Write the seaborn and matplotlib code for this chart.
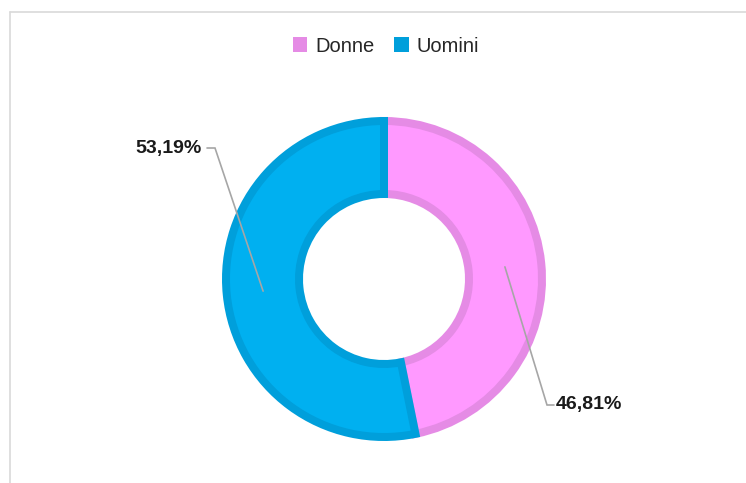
import numpy as np
import matplotlib
matplotlib.use("Agg")
import matplotlib.pyplot as plt
from matplotlib.patches import Patch
from matplotlib.lines import Line2D
import seaborn as sns

# ---- data ----
categories = ["Donne", "Uomini"]
values = [46.81, 53.19]
labels = ["46,81%", "53,19%"]
fill_colors = ["#FF99FF", "#00B0F0"]
edge_colors = ["#E58BE5", "#009FDB"]

sns.set_theme(style="white")
plt.rcParams["font.family"] = ["Liberation Sans", "DejaVu Sans"]

W, H = 746, 483
fig = plt.figure(figsize=(W / 100, H / 100), dpi=100)
ax = fig.add_axes([0, 0, 1, 1])
ax.set_xlim(0, W)
ax.set_ylim(0, H)
ax.axis("off")

cx, cy = 384, H - 279
R_out, R_in = 162, 81
lw_px = 8
lw_pt = lw_px * 72 / 100

wedges, _ = ax.pie(
    values,
    colors=fill_colors,
    startangle=90,
    counterclock=False,
    center=(cx, cy),
    radius=R_out - lw_px / 2,
    wedgeprops=dict(width=(R_out - R_in) - lw_px, linewidth=lw_pt, joinstyle="miter"),
    frame=True,
)
for w, ec in zip(wedges, edge_colors):
    w.set_edgecolor(ec)
ax.set_xlim(0, W)
ax.set_ylim(0, H)
ax.set_aspect("equal")
ax.axis("off")

# leader lines + labels
r_mid = (R_out + R_in) / 2
for w, lab in zip(wedges, labels):
    ang = np.deg2rad((w.theta1 + w.theta2) / 2)
    ax0, ay0 = cx + r_mid * np.cos(ang), cy + r_mid * np.sin(ang)
    if np.cos(ang) > 0:
        kx, ky = 547, H - 405
        ex = 554
        ax.plot([ax0, kx, ex], [ay0, ky, ky], color="#A6A6A6", lw=1.2, solid_joinstyle="miter")
        ax.text(ex + 2, ky, lab, ha="left", va="center", fontsize=14, fontweight="bold", color="#1A1A1A")
    else:
        kx, ky = 215, H - 148
        ex = 207
        ax.plot([ax0, kx, ex], [ay0, ky, ky], color="#A6A6A6", lw=1.2, solid_joinstyle="miter")
        ax.text(ex - 5, ky, lab, ha="right", va="center", fontsize=14, fontweight="bold", color="#1A1A1A")

# legend
handles = [Patch(facecolor=c, edgecolor="none") for c in edge_colors]
fig.legend(handles, categories, loc="center", bbox_to_anchor=(386 / W, 1 - 46 / H),
           ncol=2, frameon=False, fontsize=14.5, handlelength=0.7, handleheight=0.7,
           handletextpad=0.4, columnspacing=1.0, labelcolor="#262626")

# chart frame
fig.add_artist(Line2D([10 / W, 1], [1 - 12 / H, 1 - 12 / H], color="#D9D9D9", lw=1.2))
fig.add_artist(Line2D([10 / W, 10 / W], [0, 1 - 12 / H], color="#D9D9D9", lw=1.2))

fig.savefig("out.png", dpi=100, facecolor="white")
